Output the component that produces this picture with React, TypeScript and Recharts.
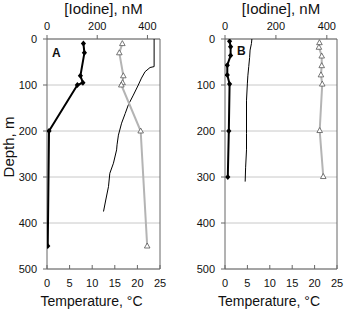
import React from 'react';
import { ScatterChart, Scatter, XAxis, YAxis, CartesianGrid } from 'recharts';

// ---- tick labels ----
const depthTicks = [0, 100, 200, 300, 400, 500];
const iodineTicks = [0, 200, 400];
const tempTicks = [0, 5, 10, 15, 20, 25];
const rightTicks = [0, 83.33, 166.67, 250, 333.33, 416.67, 500];

// ---- Panel A ----
const iodideDepthA = [10, 30, 80, 95, 100, 200, 450];
const iodideA = [145, 149, 133, 143, 121, 8, 3];
const iodateDepthA = [10, 30, 80, 95, 100, 200, 450];
const iodateA = [300, 288, 304, 301, 296, 373, 399];
const tempDepthA = [0, 60, 62, 71, 85, 100, 122, 143, 162, 183, 209, 230, 241, 270, 292, 321, 350, 375];
const tempA = [23.7, 23.7, 22.8, 21.7, 20.9, 20.2, 19.1, 18.0, 17.3, 16.5, 15.8, 15.5, 15.4, 14.7, 13.9, 13.6, 13.0, 12.5];

// ---- Panel B ----
const iodideDepthB = [5, 17, 36, 57, 78, 98, 200, 300];
const iodideB = [18, 22, 22, 9, 9, 18, 15, 11];
const iodateDepthB = [8, 18, 37, 58, 78, 98, 199, 299];
const iodateB = [371, 369, 380, 380, 377, 382, 372, 386];
const tempDepthB = [0, 10, 24, 40, 60, 80, 96, 133, 205, 241, 280, 310];
const tempB = [6.0, 5.9, 5.6, 5.5, 5.3, 5.1, 5.0, 4.8, 4.8, 4.8, 4.6, 4.5];

const FONT = '"Liberation Sans", Arial, sans-serif';
const AXIS = '#666';

const toIod = (d: number[], v: number[]) => d.map((depth, i) => ({ depth, iodine: v[i] }));
const toTemp = (d: number[], v: number[]) => d.map((depth, i) => ({ depth, temp: v[i] }));

const Diamond = (p: any) => (
  <path d={`M${p.cx},${p.cy - 3}L${p.cx + 2.6},${p.cy}L${p.cx},${p.cy + 3}L${p.cx - 2.6},${p.cy}Z`} fill="#000" />
);
const Tri = (p: any) => (
  <path d={`M${p.cx},${p.cy - 3}L${p.cx + 2.8},${p.cy + 2}L${p.cx - 2.8},${p.cy + 2}Z`} fill="#fff" stroke="#555" strokeWidth={0.8} />
);
const NoShape = () => <g />;

type PanelProps = {
  width: number;
  rightW: number;
  iodMax: number;
  iodide: { depth: number; iodine: number }[];
  iodate: { depth: number; iodine: number }[];
  temp: { depth: number; temp: number }[];
  letter: string;
  letterX: number;
  letterY: number;
  depthLabel: boolean;
};

function Panel(p: PanelProps) {
  const plotL = 47;
  const plotR = p.width - p.rightW;
  const cx = (plotL + plotR) / 2;
  const tickStyle = { fontSize: 11, fill: '#111', fontFamily: FONT };
  return (
    <ScatterChart width={p.width} height={313} margin={{ top: 0, right: 0, bottom: 0, left: 0 }}>
      <CartesianGrid xAxisId="bottom" yAxisId="left" vertical={false} stroke="#c8c8c8" horizontalValues={depthTicks} />
      <XAxis xAxisId="top" orientation="top" type="number" dataKey="iodine" domain={[0, p.iodMax]}
        allowDataOverflow ticks={iodineTicks} height={39} tickSize={4} tickMargin={5}
        stroke={AXIS} tick={tickStyle} />
      <XAxis xAxisId="bottom" orientation="bottom" type="number" dataKey="temp" domain={[0, 25]}
        allowDataOverflow ticks={tempTicks} height={44} tickSize={-4} tickMargin={14}
        stroke={AXIS} tick={tickStyle} />
      <YAxis yAxisId="left" orientation="left" type="number" dataKey="depth" domain={[0, 500]} reversed
        allowDataOverflow ticks={depthTicks} width={47} tickSize={4} tickMargin={6}
        stroke={AXIS} tick={tickStyle} />
      <YAxis yAxisId="right" orientation="right" type="number" domain={[0, 500]} reversed
        allowDataOverflow ticks={rightTicks} width={p.rightW} tickSize={3} tick={false} stroke={AXIS} />
      <Scatter data={p.temp} xAxisId="bottom" yAxisId="left" isAnimationActive={false}
        line={{ stroke: '#000', strokeWidth: 1 }} lineType="joint" shape={NoShape} />
      <Scatter data={p.iodate} xAxisId="top" yAxisId="left" isAnimationActive={false}
        line={{ stroke: '#b4b4b4', strokeWidth: 2 }} lineType="joint" shape={Tri} />
      <Scatter data={p.iodide} xAxisId="top" yAxisId="left" isAnimationActive={false}
        line={{ stroke: '#000', strokeWidth: 2 }} lineType="joint" shape={Diamond} />
      <text x={cx} y={14} textAnchor="middle" fontSize={15} fontFamily={FONT} fill="#111">[Iodine], nM</text>
      <text x={cx - 12} y={306} textAnchor="middle" fontSize={14} fontFamily={FONT} fill="#111">Temperature, °C</text>
      {p.depthLabel && (
        <text x={14} y={147} textAnchor="middle" fontSize={15} fontFamily={FONT} fill="#111"
          transform="rotate(-90 14 147)">Depth, m</text>
      )}
      <text x={p.letterX} y={p.letterY} fontSize={12} fontWeight="bold" fontFamily={FONT} fill="#111">{p.letter}</text>
    </ScatterChart>
  );
}

export default function App() {
  return (
    <div style={{ position: 'absolute', left: 0, top: 0, width: 345, height: 313, background: '#fff', overflow: 'hidden' }}>
      <div style={{ position: 'absolute', left: 0, top: 0 }}>
        <Panel width={172} rightW={12} iodMax={450}
          iodide={toIod(iodideDepthA, iodideA)} iodate={toIod(iodateDepthA, iodateA)} temp={toTemp(tempDepthA, tempA)}
          letter="A" letterX={52} letterY={57} depthLabel />
      </div>
      <div style={{ position: 'absolute', left: 178, top: 0 }}>
        <Panel width={167} rightW={8} iodMax={440}
          iodide={toIod(iodideDepthB, iodideB)} iodate={toIod(iodateDepthB, iodateB)} temp={toTemp(tempDepthB, tempB)}
          letter="B" letterX={59} letterY={55} depthLabel={false} />
      </div>
    </div>
  );
}
